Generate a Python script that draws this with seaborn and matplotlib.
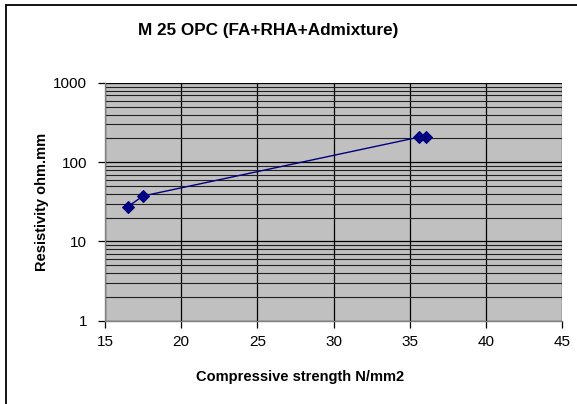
import seaborn as sns
import pandas as pd
import matplotlib.pyplot as plt
from matplotlib.lines import Line2D
from matplotlib.ticker import LogLocator, FixedLocator, NullFormatter

# Values
strength = [16.5, 17.5, 35.6, 36.1]
resistivity = [27.5, 37.5, 207, 207]
x_ticks = [15, 20, 25, 30, 35, 40, 45]
y_ticks = [1, 10, 100, 1000]

data = pd.DataFrame({'strength': strength, 'resistivity': resistivity})

sns.set_style('white')
plt.rcParams['font.family'] = ['Liberation Sans', 'DejaVu Sans']
plt.rcParams.update({'text.color': 'black', 'axes.labelcolor': 'black',
                     'xtick.color': 'black', 'ytick.color': 'black'})

W, H = 577, 404
fig = plt.figure(figsize=(W / 100, H / 100), dpi=100)
ax = fig.add_axes([105 / W, 1 - 320.7 / H, 457 / W, 237.7 / H])
ax.set_facecolor('#c0c0c0')

# Outer chart frame (left and top edges visible only)
fig.lines.append(Line2D([6 / W, 6 / W], [0, 1 - 5 / H], transform=fig.transFigure,
                        color='black', linewidth=1.3))
fig.lines.append(Line2D([6 / W, 1], [1 - 5 / H, 1 - 5 / H], transform=fig.transFigure,
                        color='black', linewidth=1.3))

sns.lineplot(data=data, x='strength', y='resistivity', ax=ax, sort=False,
             color='#000080', linewidth=1.0, marker='D', markersize=6.5,
             markeredgecolor='#000080', zorder=3)

ax.set_yscale('log')
ax.set_xlim(15, 45)
ax.set_ylim(1, 1000)
ax.xaxis.set_major_locator(FixedLocator(x_ticks))
ax.yaxis.set_major_locator(FixedLocator(y_ticks))
ax.yaxis.set_minor_locator(LogLocator(base=10, subs=range(2, 10)))
ax.yaxis.set_minor_formatter(NullFormatter())
ax.set_yticklabels([str(v) for v in y_ticks])

ax.grid(True, which='major', axis='both', color='black', linewidth=0.9)
ax.grid(True, which='minor', axis='y', color='#202020', linewidth=0.8)
ax.set_axisbelow(True)

for side in ['top', 'right']:
    ax.spines[side].set_visible(False)
for side in ['left', 'bottom']:
    ax.spines[side].set_color('#808080')
    ax.spines[side].set_linewidth(1.0)

ax.tick_params(axis='both', which='major', direction='out', length=5,
               width=0.9, color='black', labelsize=11, pad=5,
               bottom=True, left=True)
ax.tick_params(axis='y', which='major', pad=8)
ax.tick_params(axis='y', which='minor', length=0)

ax.set_xlabel('')
ax.set_ylabel('Resistivity ohm.mm', fontsize=10.5, fontweight='bold',
              labelpad=3)
fig.text(300 / W, 1 - 377 / H, 'Compressive strength N/mm2',
         ha='center', va='center', fontsize=10.5, fontweight='bold')
fig.text(268 / W, 1 - 30 / H, 'M 25 OPC (FA+RHA+Admixture)',
         ha='center', va='center', fontsize=12.3, fontweight='bold')

fig.savefig('out.png', dpi=100)
